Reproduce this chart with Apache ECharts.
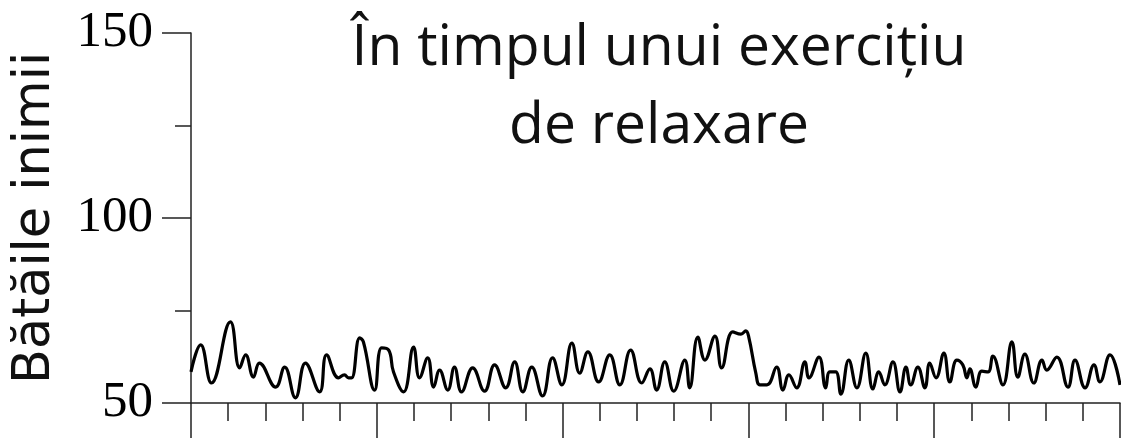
<!DOCTYPE html>
<html>
<head>
<meta charset="utf-8">
<script src="https://cdn.jsdelivr.net/npm/echarts@6/dist/echarts.min.js"></script>
<style>
  html, body { margin: 0; padding: 0; background: #fff; }
  #chart { width: 1121px; height: 439px; }
</style>
</head>
<body>
<div id="chart"></div>
<script>
// timp (unități de diviziune pe axa x) și bătăile inimii
const timeValues = [
  0.00, 0.26, 0.55, 1.06, 1.31, 1.47, 1.68, 1.84, 2.28, 2.52,
  2.81, 3.08, 3.46, 3.65, 3.97, 4.13, 4.24, 4.32, 4.54, 4.64,
  4.94, 5.13, 5.32, 5.45, 5.72, 5.99, 6.15, 6.37, 6.53, 6.69,
  6.91, 7.09, 7.28, 7.58, 7.90, 8.17, 8.47, 8.71, 8.93, 9.17,
  9.46, 9.73, 9.98, 10.25, 10.46, 10.68, 10.97, 11.27, 11.54, 11.83,
  12.13, 12.35, 12.53, 12.75, 12.99, 13.29, 13.42, 13.64, 13.83, 14.10,
  14.28, 14.58, 14.80, 14.93, 15.01, 15.20, 15.31, 15.50, 15.76, 15.93,
  16.09, 16.30, 16.52, 16.63, 16.90, 17.08, 17.19, 17.35, 17.49, 17.70,
  17.92, 18.16, 18.35, 18.51, 18.67, 18.89, 19.08, 19.24, 19.37, 19.56,
  19.75, 19.88, 20.05, 20.26, 20.42, 20.61, 20.77, 20.88, 20.96, 21.12,
  21.28, 21.45, 21.58, 21.85, 22.09, 22.25, 22.44, 22.68, 22.90, 23.03,
  23.30, 23.60, 23.79, 24.06, 24.30, 24.46, 24.73, 25.00
]
const heartRate = [
  58.4, 65.7, 55.4, 71.9, 59.5, 63.0, 57.0, 60.8, 54.3, 59.7,
  51.4, 60.8, 53.0, 63.0, 56.8, 57.6, 56.8, 56.8, 67.6, 66.5,
  53.5, 64.9, 64.3, 58.4, 53.0, 65.1, 56.8, 62.2, 54.3, 58.9,
  53.5, 59.7, 53.0, 59.5, 53.2, 60.3, 54.1, 61.1, 53.0, 59.7,
  51.9, 62.2, 54.9, 66.2, 58.1, 63.8, 55.7, 63.0, 54.9, 64.3,
  55.4, 59.2, 53.5, 61.1, 53.2, 61.6, 54.1, 67.8, 61.6, 68.1,
  59.5, 69.2, 68.6, 69.5, 67.8, 58.1, 54.9, 54.9, 59.7, 53.5,
  57.6, 54.1, 61.1, 56.8, 62.4, 54.1, 58.4, 58.4, 52.4, 61.6,
  54.1, 63.5, 53.8, 58.4, 54.9, 61.1, 53.0, 59.7, 54.9, 59.7,
  54.1, 60.8, 56.8, 63.5, 55.7, 61.6, 60.3, 56.8, 59.2, 54.3,
  58.6, 58.4, 62.7, 54.9, 66.5, 57.0, 63.2, 55.4, 61.6, 58.9,
  62.4, 54.3, 61.6, 54.1, 60.3, 55.7, 63.0, 54.9
]
const yTickLabels = [50, 100, 150]

const titleText = 'În timpul unui exercițiu\nde relaxare'
const yAxisName = 'Bătăile inimii'

const chart = echarts.init(document.getElementById('chart'), null, { renderer: 'canvas' })

const seriesData = timeValues.map((t, i) => [t, heartRate[i]])

chart.setOption({
  animation: false,
  title: {
    text: titleText,
    left: 659,
    top: 10,
    padding: 0,
    textAlign: 'center',
    textStyle: {
      fontFamily: 'Open Sans',
      fontWeight: 'normal',
      fontSize: 57,
      lineHeight: 78,
      color: '#111'
    }
  },
  grid: {
    left: 191,
    right: 1,
    top: 33,
    height: 370,
    outerBoundsMode: 'none'
  },
  xAxis: {
    type: 'value',
    min: 0,
    max: 25,
    interval: 5,
    axisLine: { show: true, onZero: false, lineStyle: { color: '#222', width: 1.5 } },
    axisTick: { show: true, length: 35, lineStyle: { color: '#222', width: 1.5 } },
    minorTick: { show: true, splitNumber: 5, length: 18, lineStyle: { color: '#222', width: 1.5 } },
    axisLabel: { show: false },
    splitLine: { show: false }
  },
  yAxis: {
    type: 'value',
    min: 50,
    max: 150,
    interval: 50,
    name: yAxisName,
    nameLocation: 'middle',
    nameRotate: 90,
    nameGap: 130,
    nameTextStyle: {
      fontFamily: 'DejaVu Sans',
      fontSize: 51,
      color: '#111'
    },
    axisLine: { show: true, lineStyle: { color: '#222', width: 1.5 } },
    axisTick: { show: true, length: 29, lineStyle: { color: '#222', width: 1.5 } },
    minorTick: { show: true, splitNumber: 2, length: 16, lineStyle: { color: '#222', width: 1.5 } },
    axisLabel: {
      margin: 38,
      fontFamily: 'Liberation Serif',
      fontSize: 51,
      color: '#000',
      formatter: (v) => (yTickLabels.includes(v) ? String(v) : '')
    },
    splitLine: { show: false }
  },
  series: [{
    type: 'line',
    data: seriesData,
    smooth: 0.45,
    showSymbol: false,
    clip: false,
    lineStyle: { color: '#000', width: 3.2 }
  }]
})
</script>
</body>
</html>
